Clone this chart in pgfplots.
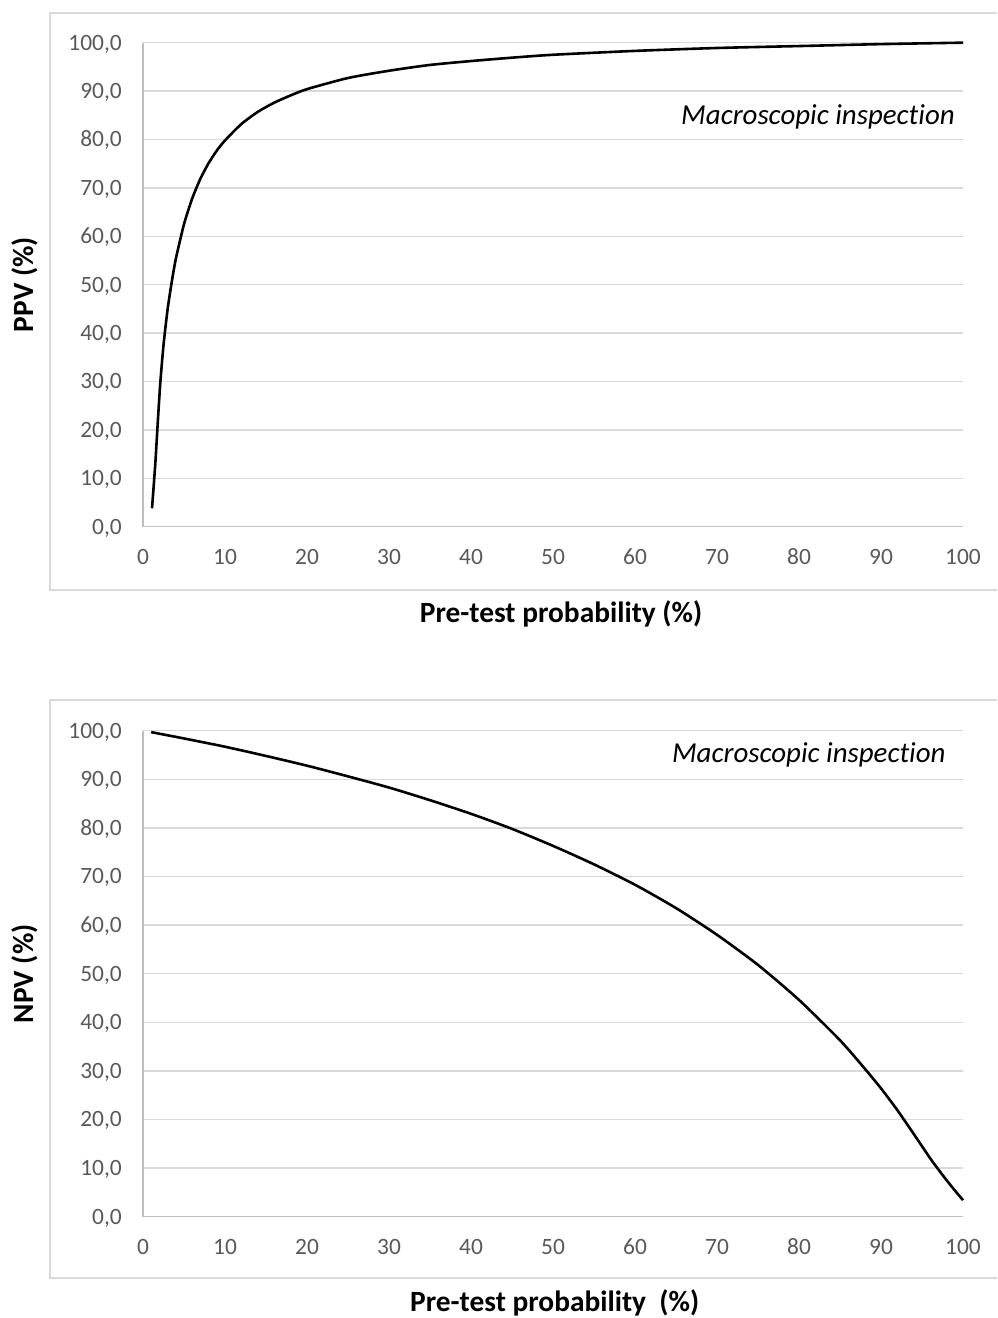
\documentclass[border=0pt]{standalone}
\usepackage{fontspec}
\setmainfont{Carlito}[Ligatures=NoCommon]
\usepackage{pgfplots}
\pgfplotsset{compat=1.18}
\definecolor{tickgray}{HTML}{595959}
\definecolor{axisgray}{HTML}{BFBFBF}
\definecolor{gridgray}{HTML}{D9D9D9}
\definecolor{boxgray}{HTML}{D9D9D9}
\pgfplotsset{
  mystyle/.style={
    scale only axis, width=820bp,
    xmin=0, xmax=100, ymin=0, ymax=100,
    xtick={0,10,...,100}, ytick={0,10,...,100},
    axis x line*=bottom, axis y line*=left,
    ymajorgrids, major tick length=0pt,
    grid style={gridgray, line width=1.3bp},
    axis line style={axisgray, line width=1.4bp},
    tick label style={font=\fontsize{23.5}{23.5}\selectfont, text=tickgray, inner sep=0pt, text height=15bp, text depth=0pt},
    /pgf/number format/assume math mode=true,
    yticklabel style={anchor=east, xshift=-21bp, /pgf/number format/.cd, fixed, fixed zerofill, precision=1, use comma},
    xticklabel style={anchor=north, yshift=-23bp},
    label style={font=\bfseries\fontsize{29.5}{29.5}\selectfont, text=black},
    clip=false,
  }
}
\begin{document}
\begin{tikzpicture}[x=1bp,y=1bp]
\useasboundingbox (0,0) rectangle (997,1318);
\draw[boxgray, line width=1.5bp] (997,1305)--(50,1305)--(50,728)--(997,728);
\draw[boxgray, line width=1.5bp] (997,618)--(50,618)--(50,40)--(997,40);

\begin{axis}[mystyle, height=484bp, at={(143bp,791.3bp)}, anchor=south west,
  xlabel={Pre-test probability (\%)}, ylabel={PPV (\%)},
  xlabel style={at={(axis description cs:0.5098,-0.1798)}, anchor=center},
  ylabel style={at={(axis description cs:-0.1439,0.5)}, anchor=center, rotate=0}]
\addplot[black, line width=2.6bp, line join=round, smooth, tension=0.4] coordinates {
(1.1,3.8)(1.5,13)(1.8,21.5)(2.1,29.5)(2.5,37.5)(3,44.9)(3.5,50.5)(4,55.3)(5,62.5)(6,67.8)(7,71.9)(8,75.1)(9,77.7)(10,79.8)(12,83.2)(14,85.7)(16,87.6)(18,89.1)(20,90.4)(25,92.7)(30,94.2)(35,95.4)(40,96.2)(45,96.9)(50,97.5)(60,98.3)(70,98.9)(80,99.3)(90,99.7)(100,100)
};
\node[anchor=base east, font=\itshape\fontsize{29}{29}\selectfont, inner sep=0pt] at (axis description cs:0.9902,0.8306) {Macroscopic inspection};
\end{axis}

\begin{axis}[mystyle, height=486bp, at={(143bp,101.3bp)}, anchor=south west,
  xlabel={Pre-test probability\ \ (\%)}, ylabel={NPV (\%)},
  xlabel style={at={(axis description cs:0.502,-0.177)}, anchor=center},
  ylabel style={at={(axis description cs:-0.1439,0.5)}, anchor=center, rotate=0}]
\addplot[black, line width=2.6bp, line join=round, smooth, tension=0.4] coordinates {
(1,99.7)(5,98.4)(10,96.7)(15,94.8)(20,92.8)(25,90.6)(30,88.3)(35,85.7)(40,82.9)(45,79.8)(50,76.3)(55,72.5)(60,68.3)(65,63.5)(70,58.0)(75,51.8)(80,44.6)(85,36.3)(88,30.5)(90,26.4)(92,21.9)(94,17.0)(96,12.0)(97,9.7)(98,7.5)(99,5.4)(100,3.4)
};
\node[anchor=base east, font=\itshape\fontsize{29}{29}\selectfont, inner sep=0pt] at (axis description cs:0.979,0.934) {Macroscopic inspection};
\end{axis}
\end{tikzpicture}
\end{document}
